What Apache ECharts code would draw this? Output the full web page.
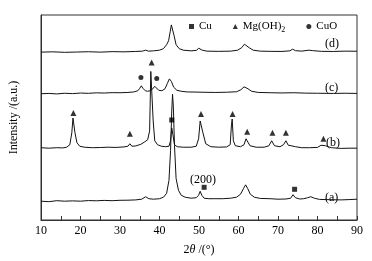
<!DOCTYPE html>
<html>
<head>
<meta charset="utf-8">
<script src="https://cdn.jsdelivr.net/npm/echarts@6/dist/echarts.min.js"></script>
<style>
  html, body { margin: 0; padding: 0; background: #fff; }
  #main { width: 372px; height: 261px; }
</style>
</head>
<body>
<div id="main"></div>
<script>
// XRD patterns, 2theta vs intensity (already stacked, arbitrary units)
var curveA = [[10,19],[12,18.5],[14,19.5],[16,19],[18,19.3],[20,19],[22,19.6],[24,19.4],[26,19.8],[28,19.5],[30,19.9],[32,20],[34,20.3],[35.5,21],[36.5,23.5],[37.3,21.5],[38.5,21],[40,21.5],[41,23],[41.8,27],[42.4,40],[42.8,70],[43.1,110],[43.3,127],[43.5,115],[43.8,75],[44.2,42],[44.8,30],[45.5,25],[46.5,23],[48,22],[49.3,22.5],[49.9,25],[50.3,29],[50.7,25],[51.3,22],[52.5,21.5],[54,21.5],[56,21.5],[58,22],[59.5,23],[60.5,26],[61.3,32],[61.8,35.5],[62.3,32],[63,26],[64,23],[65.5,21.8],[68,21.5],[70,21],[72,21.2],[73.2,22],[73.8,25.5],[74.4,22.5],[75.5,21.2],[76.5,21.5],[77.5,22.5],[78.3,23.5],[79.2,22],[80.5,20.8],[83,20.5],[86,20.3],[88,20.6],[90,21]];
var curveB = [[10,73],[12,72.5],[14,73],[15.5,72.8],[16.5,73.5],[17.3,76],[17.8,88],[18.1,103],[18.3,103],[18.6,88],[19.1,78],[19.8,74.5],[21,73.5],[23,73],[25,73.2],[27,73.5],[29,73.3],[31,73.8],[32,74.5],[32.5,77],[33,74.5],[34,74.8],[35.3,76.5],[36.3,79],[37,81],[37.5,90],[37.8,150],[38.1,152],[38.4,100],[38.8,80],[39.5,76],[40.5,74.5],[41.5,74],[42.4,74.5],[42.8,80],[43.1,93],[43.4,86],[43.8,76],[44.5,74],[46,73.5],[48,73.5],[49.3,74.5],[49.9,82],[50.3,100],[50.6,101],[51,88],[51.7,77],[53,74],[55,73.5],[57,73.8],[57.9,76],[58.2,95],[58.4,102],[58.7,80],[59.2,75],[60.5,74],[61.4,76],[61.9,82],[62.3,80],[62.9,75],[64.5,73.5],[66.5,73.5],[67.7,75],[68.4,80],[69.1,75],[70.5,74],[71.4,76],[72,80],[72.6,75.5],[73.3,75],[73.8,76.5],[74.4,74],[76,73],[78,73],[80,73.3],[80.9,75.5],[81.4,77.5],[82,75],[83.5,73],[86,72.3],[88,72.5],[90,72.5]];
var curveC = [[10,127.5],[12,127.8],[14,127.3],[16,128],[18,127.6],[20,128.2],[22,127.9],[24,128.4],[26,128.2],[28,128.6],[30,128.5],[32,128.8],[33.5,129.3],[34.5,130.5],[35,133],[35.4,135.5],[35.8,133],[36.4,130.5],[37,130],[37.6,130.5],[38.3,132.5],[38.8,135],[39.2,134],[39.8,131],[40.6,130.5],[41.4,132.5],[42,138],[42.5,142.5],[43,140],[43.6,134],[44.4,131],[45.5,130],[47,129.3],[49,129.2],[51,129],[54,128.8],[57,129],[59.5,129.5],[60.6,131.5],[61.4,134.5],[61.8,135],[62.4,132.5],[63.3,130],[65,128.8],[68,128.5],[71,128.3],[74,128.5],[77,128.1],[80,128],[84,127.8],[87,128],[90,127.8]];
var curveD = [[10,169.5],[13,169.8],[16,169.3],[19,169.6],[22,169.9],[25,169.5],[28,170],[31,169.8],[34,170.2],[35.7,170.5],[36.5,171.5],[37.2,170.5],[38.5,170.8],[40,171.5],[41,173],[41.8,177],[42.3,181],[42.7,190],[43,197],[43.3,196],[43.7,186],[44.2,177],[45,173],[46,171.5],[48,170.8],[49.4,171.3],[49.9,173.5],[50.3,174],[50.8,171.5],[52,170.5],[55,170.3],[58,170.5],[59.8,171.5],[60.8,174],[61.5,177.5],[62,177],[62.7,174],[63.7,171.5],[65.5,170.5],[68,170.3],[71,170.2],[73,170.8],[73.7,172.5],[74.4,171],[76,170.5],[77.8,171.5],[78.8,171],[81,170.3],[84,170.2],[87,170.5],[90,170.4]];

// phase markers
var cuMarks = [[43.1,101],[51.3,33],[74.2,31]];
var mgMarks = [[18.2,108],[32.5,87],[38.0,159],[50.5,107],[58.5,107],[62.2,89],[68.6,88],[72.0,88],[81.5,82]];
var cuoMarks = [[35.3,144],[39.3,143]];

var curveNames = ['(a)','(b)','(c)','(d)'];

var myChart = echarts.init(document.getElementById('main'));
var serif = '"Liberation Serif", "DejaVu Serif", serif';
var axisColor = '#333';

function line(name, data) {
    return {
        name: name,
        type: 'line',
        data: data,
        showSymbol: false,
        silent: true,
        lineStyle: { color: '#111', width: 1 },
        z: 2
    };
}
function marks(name, symbol, size, data) {
    return {
        name: name,
        type: 'scatter',
        symbol: symbol,
        symbolSize: size,
        data: data,
        itemStyle: { color: '#000' },
        z: 3
    };
}

option = {
    animation: false,
    grid: {
        left: 41, right: 15, top: 15, bottom: 39,
        show: true, borderColor: axisColor, borderWidth: 1
    },
    legend: {
        data: [
            { name: 'Cu', icon: 'rect' },
            { name: 'Mg(OH)2', icon: 'triangle' },
            { name: 'CuO', icon: 'circle' }
        ],
        left: 184, top: 16,
        itemWidth: 5, itemHeight: 5, itemGap: 21,
        textStyle: {
            fontFamily: serif, fontSize: 11, color: '#000',
            rich: { sub: { fontFamily: serif, fontSize: 8, padding: [6, 0, 0, 0] } }
        },
        formatter: function (name) {
            return name === 'Mg(OH)2' ? 'Mg(OH){sub|2}' : name;
        }
    },
    xAxis: {
        type: 'value',
        min: 10, max: 90, interval: 10,
        name: '2{i|θ} /(°)',
        nameLocation: 'middle',
        nameGap: 24,
        nameTextStyle: {
            fontFamily: serif, fontSize: 12, color: '#000',
            rich: { i: { fontFamily: serif, fontStyle: 'italic', fontSize: 12 } }
        },
        axisLine: { lineStyle: { color: axisColor } },
        axisTick: { inside: true, length: 4, lineStyle: { color: axisColor } },
        minorTick: { show: true, splitNumber: 2, length: 4, lineStyle: { color: axisColor } },
        splitLine: { show: false },
        axisLabel: { margin: 5, fontFamily: serif, fontSize: 12, color: '#000' }
    },
    yAxis: {
        type: 'value',
        min: 0, max: 207,
        name: 'Intensity /(a.u.)',
        nameLocation: 'middle',
        nameGap: 21,
        nameTextStyle: { fontFamily: serif, fontSize: 12, color: '#000' },
        axisLine: { show: true, lineStyle: { color: axisColor } },
        axisTick: { show: false },
        axisLabel: { show: false },
        splitLine: { show: false }
    },
    graphic: [
        { type: 'text', left: 325, top: 192, style: { text: curveNames[0], font: '12px ' + serif, fill: '#000' } },
        { type: 'text', left: 326, top: 137, style: { text: curveNames[1], font: '12px ' + serif, fill: '#000' } },
        { type: 'text', left: 325, top: 82, style: { text: curveNames[2], font: '12px ' + serif, fill: '#000' } },
        { type: 'text', left: 325, top: 38, style: { text: curveNames[3], font: '12px ' + serif, fill: '#000' } },
        { type: 'text', left: 190, top: 174, style: { text: '(200)', font: '12px ' + serif, fill: '#000' } }
    ],
    series: [
        line('a', curveA),
        line('b', curveB),
        line('c', curveC),
        line('d', curveD),
        marks('Cu', 'rect', 5, cuMarks),
        marks('Mg(OH)2', 'triangle', 6, mgMarks),
        marks('CuO', 'circle', 5, cuoMarks)
    ]
};
myChart.setOption(option);
</script>
</body>
</html>
